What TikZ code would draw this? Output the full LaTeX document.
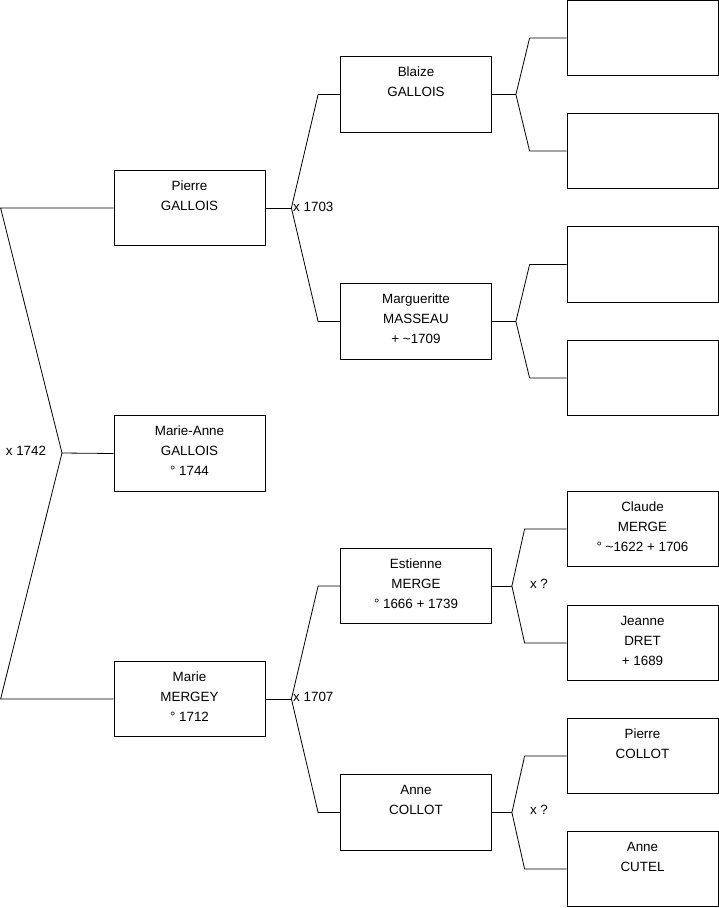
\documentclass[tikz,border=0pt]{standalone}
\usepackage{fontspec}
\setmainfont{Liberation Sans}
\newcommand{\lineprop}{\rule[-8pt]{0pt}{20pt}}
\newcommand{\who}[3]{\lineprop#1\\\lineprop#2\\\lineprop#3}
\begin{document}
\begin{tikzpicture}[
  x=1pt, y=-1pt,
  person/.style={draw, line width=0.8pt, minimum width=151pt, minimum height=75.5pt,
    inner sep=0pt, align=center, font=\fontsize{13.4}{20}\selectfont},
  link/.style={line width=0.8pt},
  union/.style={inner sep=0pt, font=\fontsize{13.4}{15}\selectfont}
]
\useasboundingbox (0,0) rectangle (719,908);

% generation 1
\node[person] (pierre) at (189.5,208) {\who{Pierre}{GALLOIS}{}};
\node[person] (marieanne) at (189.5,453.5) {\who{Marie-Anne}{GALLOIS}{° 1744}};
\node[person] (marie) at (189.5,699) {\who{Marie}{MERGEY}{° 1712}};

% generation 2
\node[person] (blaize) at (416,94.5) {\who{Blaize}{GALLOIS}{}};
\node[person] (marguerite) at (416,321.5) {\who{Margueritte}{MASSEAU}{+ \textasciitilde1709}};
\node[person] (estienne) at (416,586) {\who{Estienne}{MERGE}{° 1666 + 1739}};
\node[person] (acollot) at (416,812.5) {\who{Anne}{COLLOT}{}};

% generation 3
\node[person] (e1) at (642.5,38) {};
\node[person] (e2) at (642.5,151) {};
\node[person] (e3) at (642.5,264.5) {};
\node[person] (e4) at (642.5,378) {};
\node[person] (claude) at (642.5,529) {\who{Claude}{MERGE}{° \textasciitilde1622 + 1706}};
\node[person] (jeanne) at (642.5,643) {\who{Jeanne}{DRET}{+ 1689}};
\node[person] (pcollot) at (642.5,756) {\who{Pierre}{COLLOT}{}};
\node[person] (cutel) at (642.5,869) {\who{Anne}{CUTEL}{}};

% forks
\coordinate (jroot) at (62,453);
\draw[link] (marieanne.west) -- (jroot);
\draw[link] (pierre.west) -- ([xshift=-113]pierre.west) -- (jroot)
  -- ([xshift=-113]marie.west) -- (marie.west);

\coordinate (jpierre) at ([xshift=26]pierre.east);
\draw[link] (pierre.east) -- (jpierre);
\draw[link] (blaize.west) -- ++(-22,0) -- (jpierre)
  -- ([xshift=-22]marguerite.west) -- (marguerite.west);

\coordinate (jmarie) at ([xshift=26]marie.east);
\draw[link] (marie.east) -- (jmarie);
\draw[link] (estienne.west) -- ++(-22,0) -- (jmarie)
  -- ([xshift=-22]acollot.west) -- (acollot.west);

\coordinate (jblaize) at ([xshift=24]blaize.east);
\draw[link] (blaize.east) -- (jblaize);
\draw[link] (e1.west) -- ++(-37,0) -- (jblaize)
  -- ([xshift=-37]e2.west) -- (e2.west);

\coordinate (jmarg) at ([xshift=24]marguerite.east);
\draw[link] (marguerite.east) -- (jmarg);
\draw[link] (e3.west) -- ++(-37,0) -- (jmarg)
  -- ([xshift=-37]e4.west) -- (e4.west);

\coordinate (jestienne) at ([xshift=20]estienne.east);
\draw[link] (estienne.east) -- (jestienne);
\draw[link] (claude.west) -- ++(-42,0) -- (jestienne)
  -- ([xshift=-42]jeanne.west) -- (jeanne.west);

\coordinate (jacollot) at ([xshift=20]acollot.east);
\draw[link] (acollot.east) -- (jacollot);
\draw[link] (pcollot.west) -- ++(-42,0) -- (jacollot)
  -- ([xshift=-42]cutel.west) -- (cutel.west);

% marriages
\node[union] (m1742) at (26,451) {x 1742};
\node[union, anchor=west] (m1703) at (293,207) {x 1703};
\node[union, anchor=west] (m1707) at (293,697) {x 1707};
\node[union] (mq1) at (539,584) {x ?};
\node[union] (mq2) at (539,810) {x ?};
\end{tikzpicture}
\end{document}
